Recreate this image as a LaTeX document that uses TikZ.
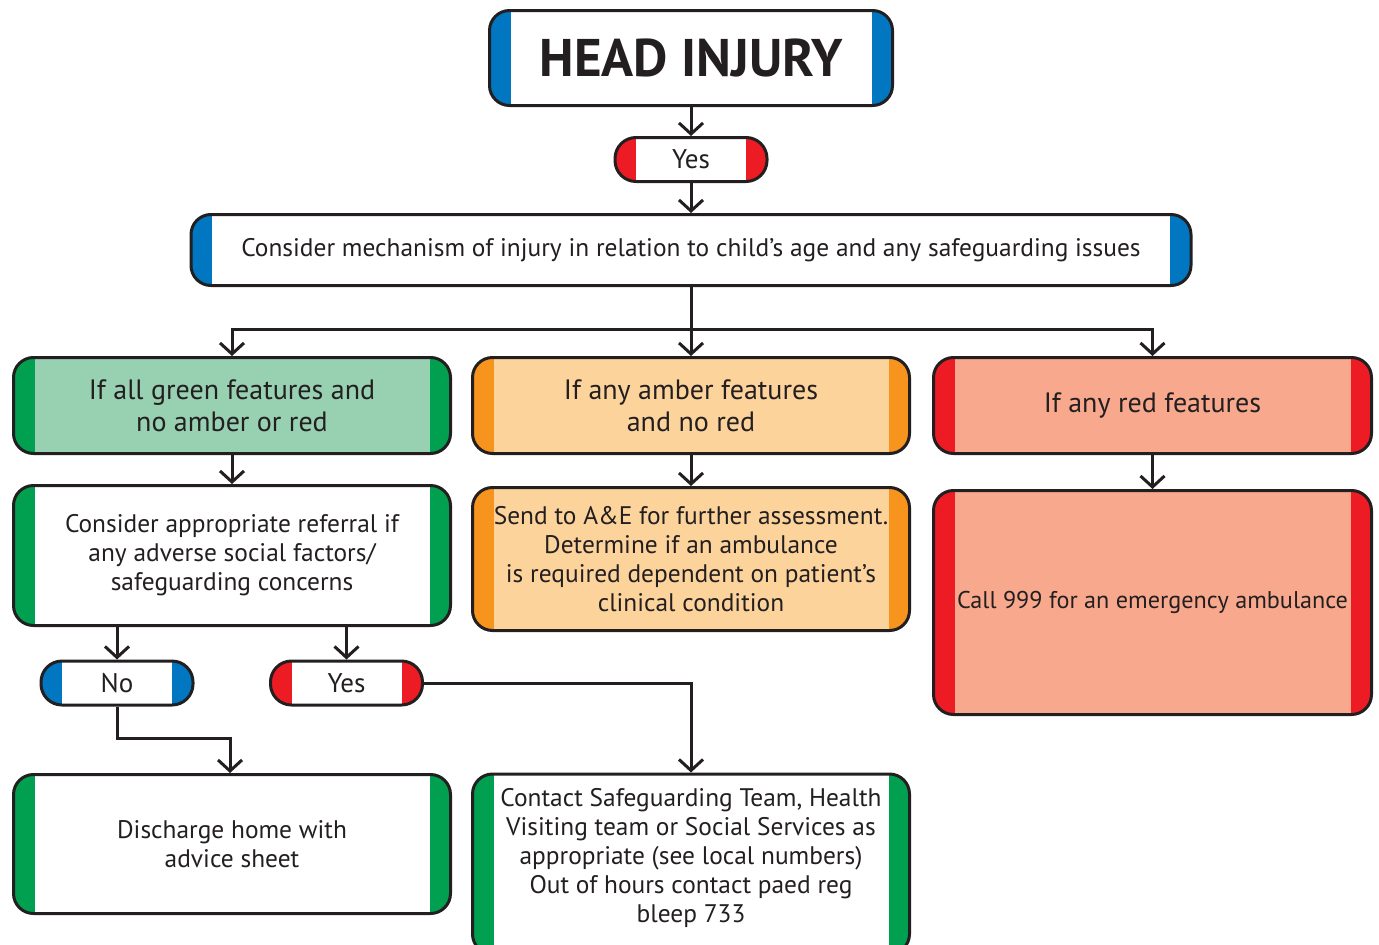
\documentclass[tikz,border=0pt]{standalone}
\usepackage{fontspec}
\setmainfont{PT Sans}
\usetikzlibrary{arrows.meta,positioning}
\definecolor{outline}{HTML}{231F20}
\definecolor{nhsblue}{HTML}{0077C0}
\definecolor{nhsred}{HTML}{ED1C24}
\definecolor{nhsgreen}{HTML}{00A050}
\definecolor{nhsamber}{HTML}{F7941D}
\definecolor{lightgreen}{HTML}{98D0B2}
\definecolor{lightamber}{HTML}{FDD39C}
\definecolor{salmon}{HTML}{F8A98D}
\tikzset{
  flowbox/.style 2 args={
    draw=outline, line width=3pt, rounded corners=20pt, fill=#2,
    inner sep=0pt, align=center, text=outline,
    path picture={
      \fill[#1, sharp corners] (path picture bounding box.north west) rectangle ([xshift=21pt]path picture bounding box.south west);
      \fill[#1, sharp corners] (path picture bounding box.north east) rectangle ([xshift=-21pt]path picture bounding box.south east);
    },
  },
  pill/.style={flowbox={#1}{white}, rounded corners=21pt, minimum width=152pt, minimum height=44pt,
    font=\fontsize{27}{30}\selectfont},
  body/.style={font=\fontsize{25.4}{29}\selectfont},
  big/.style={font=\fontsize{28}{32}\selectfont},
  arr/.style={draw=outline, line width=3pt, -{Straight Barb[length=11pt,width=24pt,line width=3pt]}},
  link/.style={draw=outline, line width=3pt},
}
\begin{document}
\begin{tikzpicture}[x=1pt, y=-1pt]
  \clip (0,0) rectangle (1379,945);
  \node[flowbox={nhsblue}{white}, minimum width=403pt, minimum height=95pt,
    font=\fontsize{53}{55}\selectfont\bfseries] (head) at (691,58) {HEAD INJURY};
  \node[pill=nhsred] (yes1) at (691,159.5) {Yes};
  \node[flowbox={nhsblue}{white}, body, minimum width=1000pt, minimum height=71pt] (consider) at (691,250)
    {Consider mechanism of injury in relation to child’s age and any safeguarding issues};

  % three branches
  \node[flowbox={nhsgreen}{lightgreen}, big, minimum width=437pt, minimum height=96pt] (green) at (232,405.5)
    {If all green features and\\no amber or red};
  \node[flowbox={nhsamber}{lightamber}, big, minimum width=437pt, minimum height=96pt] (amber) at (691,405.5)
    {If any amber features\\and no red};
  \node[flowbox={nhsred}{salmon}, big, minimum width=438pt, minimum height=96pt] (red) at (1152.5,405.5)
    {If any red features};

  \node[flowbox={nhsgreen}{white}, body, minimum width=437pt, minimum height=140pt] (referral) at (232,555.5)
    {Consider appropriate referral if\\any adverse social factors/\\safeguarding concerns};
  \node[flowbox={nhsamber}{lightamber}, body, minimum width=437pt, minimum height=143pt] (ae) at (691,559)
    {Send to A\&E for further assessment.\\Determine if an ambulance\\is required dependent on patient’s\\clinical condition};
  \node[flowbox={nhsred}{salmon}, minimum width=438pt, minimum height=224pt,
    font=\fontsize{24.2}{29}\selectfont] (call) at (1152.5,602.5)
    {Call 999 for an emergency ambulance};

  \node[pill=nhsblue] (no) at (117,683) {No};
  \node[pill=nhsred] (yes2) at (346.5,683) {Yes};

  \node[flowbox={nhsgreen}{white}, body, minimum width=437pt, minimum height=139pt] (discharge) at (232,844)
    {Discharge home with\\advice sheet};
  \node[flowbox={nhsgreen}{white}, minimum width=437pt, minimum height=180pt] (contact) at (691,864) {};
  \node[body, align=center, text=outline] (contacttext) at (691,858)
    {Contact Safeguarding Team, Health\\Visiting team or Social Services as\\appropriate (see local numbers)\\Out of hours contact paed reg\\bleep 733};

  % connectors
  \coordinate (split) at (691,329);
  \coordinate (noturn) at (230,738);
  \path[arr] (head) edge (yes1);
  \path[arr] (yes1) edge (consider);
  \draw[link] (consider) -- (split);
  \draw[arr] (split) -| (green.north);
  \draw[arr] (split) -- (amber.north);
  \draw[arr] (split) -| (red.north);
  \path[arr] (green) edge (referral);
  \path[arr] (amber) edge (ae);
  \path[arr] (red) edge (call);
  \draw[arr] (referral.south -| no) -- (no.north);
  \draw[arr] (referral.south -| yes2) -- (yes2.north);
  \draw[arr] (no.south) |- (noturn) -- (noturn |- discharge.north);
  \draw[arr] (yes2.east) -| (contact.north);
\end{tikzpicture}
\end{document}
